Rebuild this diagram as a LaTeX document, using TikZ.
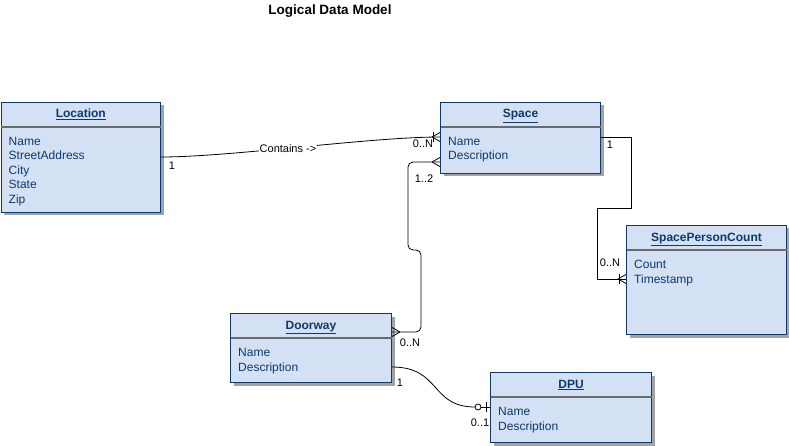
\documentclass[tikz,border=0pt]{standalone}
\usepackage{fontspec}
\setmainfont{Liberation Sans}
\usetikzlibrary{shadows,calc}
\definecolor{erfill}{HTML}{D4E1F5}
\definecolor{erline}{HTML}{0E3A6B}
\definecolor{ertext}{HTML}{0E3A6B}
\definecolor{erdiv}{HTML}{6A6A6A}
\definecolor{ershadow}{HTML}{A3A3A3}
\newcommand\erentity[7]{%
  \node[entity, minimum width=#4pt, minimum height=#5pt] (#1) at (#2,#3) {};
  \node[hdr, anchor=base] (#1-t) at ([yshift=-16pt]#1.north) {\underline{#6}};
  \draw[divider] ([yshift=-25pt,xshift=0.5pt]#1.north west) -- ([yshift=-25pt,xshift=-0.5pt]#1.north east);
  \foreach \a [count=\i] in {#7}
    \node[attr, anchor=base west] (#1-a\i) at ([xshift=8pt, yshift={-43.5pt-(\i-1)*14.5pt}]#1.north west) {\a};
}
\newcommand\crowfoot[2]{% #1 coordinate on box edge, #2 = 1 if box lies to the right, -1 if to the left
  \draw[conn] ($(#1)+(-8*#2,0)$) -- ($(#1)+(0,-4.5)$)
              ($(#1)+(-8*#2,0)$) -- ($(#1)+(0,4.5)$);}
\newcommand\onebar[2]{%
  \draw[conn] ($(#1)+(-7*#2,-5)$) -- ($(#1)+(-7*#2,5)$);}
\begin{document}
\begin{tikzpicture}[x=1pt,y=-1pt,
  entity/.style={draw=erline, fill=erfill, line width=1pt, anchor=north west, inner sep=0pt,
    drop shadow={shadow xshift=3pt, shadow yshift=-3pt, fill=ershadow, opacity=1}},
  hdr/.style={font=\fontsize{12}{14}\selectfont\bfseries, text=ertext, inner sep=0pt},
  attr/.style={font=\fontsize{12}{14}\selectfont, text=ertext, inner sep=0pt},
  divider/.style={draw=erdiv, line width=1.3pt},
  conn/.style={draw=black, line width=0.8pt},
  lbl/.style={font=\fontsize{11}{13}\selectfont, text=black, inner sep=1pt},
  titlestyle/.style={font=\fontsize{13.5}{16}\selectfont\bfseries, text=black, inner sep=0pt}]
\useasboundingbox[fill=white] (0,0) rectangle (789,446);

\node[titlestyle, anchor=base] (title) at (330,15) {Logical Data Model};

\erentity{loc}{0.5}{102}{159.5}{110}{Location}{Name,StreetAddress,City,State,Zip}
\erentity{sp}{440}{102}{160}{71}{Space}{Name,Description}
\erentity{spc}{626}{225}{160}{109}{SpacePersonCount}{Count,Timestamp}
\erentity{dw}{230}{313}{161}{69}{Doorway}{Name,Description}
\erentity{dpu}{490}{372}{161}{70}{DPU}{Name,Description}

% Location -- Space
\coordinate (c1a) at ([yshift=-55pt]loc.north east);
\coordinate (c1b) at ([yshift=-35pt]sp.north west);
\draw[conn] (c1a) .. controls ([xshift=70pt]c1a) and ([xshift=-70pt]c1b) .. (c1b)
  node[lbl, fill=white, pos=0.46] (c1l) {Contains ->};
\crowfoot{c1b}{1}
\onebar{c1b}{1}
\node[lbl] (c1m) at (172,166) {1};
\node[lbl] (c1n) at (423,144) {0..N};

% Space -- SpacePersonCount
\coordinate (c2a) at ([yshift=-35pt]sp.north east);
\coordinate (c2b) at ([yshift=-54pt]spc.north west);
\draw[conn] (c2a) -- ++(30,0) -- ++(0,71) -- ++(-34,0) |- (c2b);
\crowfoot{c2b}{1}
\onebar{c2b}{1}
\node[lbl] (c2m) at (610,145) {1};
\node[lbl] (c2n) at (610,263) {0..N};

% Doorway -- Space
\coordinate (c3a) at ([yshift=-19pt]dw.north east);
\coordinate (c3b) at ([yshift=-60pt]sp.north west);
\draw[conn, rounded corners=5pt] (c3a) -- ++(29,0) -- ++(0,-82) -- ++(-13,0) |- (c3b);
\crowfoot{c3b}{1}
\crowfoot{c3a}{-1}
\node[lbl] (c3m) at (424,179) {1..2};
\node[lbl] (c3n) at (410,343) {0..N};

% Doorway -- DPU
\coordinate (c4a) at ([yshift=-54pt]dw.north east);
\coordinate (c4b) at ([yshift=-35pt]dpu.north west);
\coordinate (c4o) at ([xshift=-12pt]c4b);
\draw[conn] (c4a) .. controls ([xshift=49pt]c4a) and ([xshift=-60pt]c4b) .. ([xshift=-15pt]c4b);
\draw[conn] (c4o) circle[radius=3];
\draw[conn] ([xshift=-9pt]c4b) -- (c4b);
\onebar{c4b}{0.57}
\node[lbl] (c4m) at (400,383) {1};
\node[lbl] (c4n) at (480,423) {0..1};
\end{tikzpicture}
\end{document}
